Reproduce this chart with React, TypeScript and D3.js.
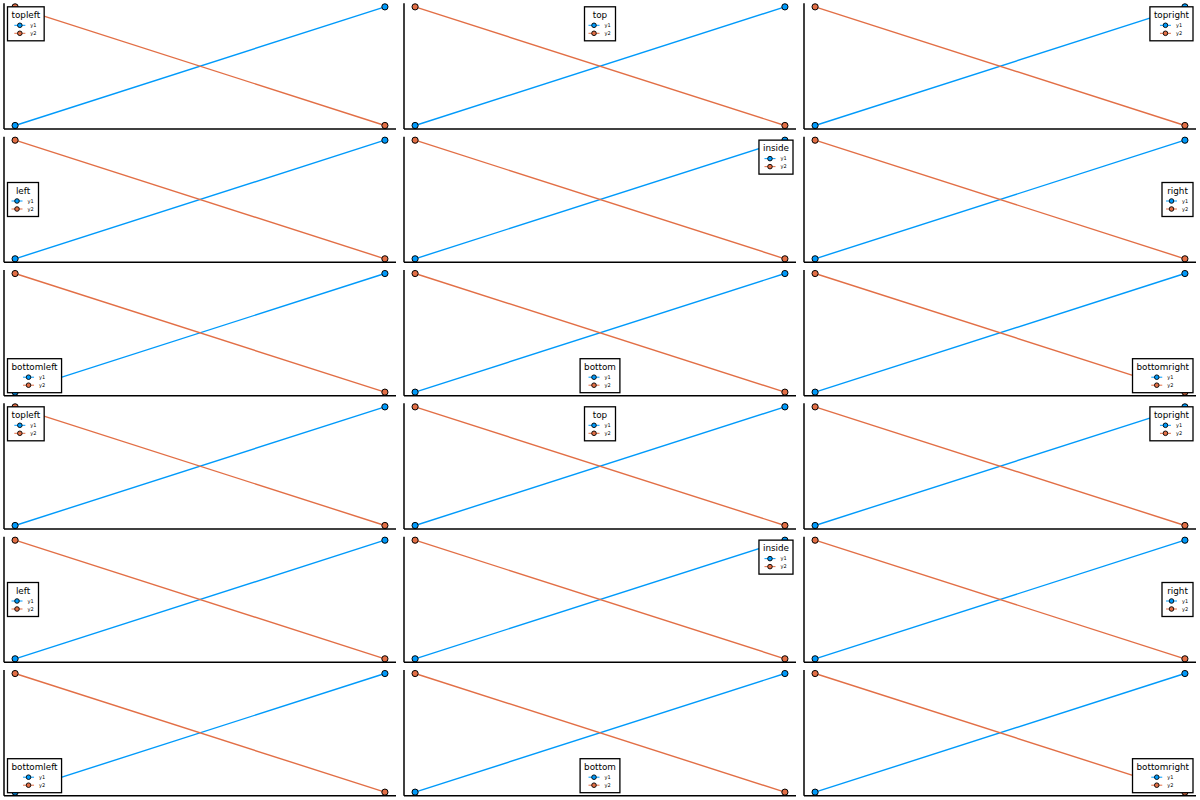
import React from "react";
import * as d3 from "d3";

const W = 1200;
const H = 800;
const ROWS = 6;
const COLS = 3;

const xValues = [1, 2];
const y1Values = [1, 2];
const y2Values = [2, 1];
const seriesNames = ["y1", "y2"];
const seriesColors = ["#009AFA", "#E26F46"];
const legendPositions = [
  "topleft", "top", "topright",
  "left", "inside", "right",
  "bottomleft", "bottom", "bottomright",
  "topleft", "top", "topright",
  "left", "inside", "right",
  "bottomleft", "bottom", "bottomright",
];

const TITLE_SIZE = 8.8;
const TITLE_FONT = `${TITLE_SIZE}px 'DejaVu Sans'`;
let measureCtx: CanvasRenderingContext2D | null = null;
function textWidth(s: string): number {
  if (!measureCtx) {
    const c = document.createElement("canvas");
    measureCtx = c.getContext("2d");
  }
  if (!measureCtx) return s.length * 5.2;
  measureCtx.font = TITLE_FONT;
  return measureCtx.measureText(s).width;
}

function widen(ext: [number, number]): [number, number] {
  const d = (ext[1] - ext[0]) * 0.03;
  return [ext[0] - d, ext[1] + d];
}

function Panel({ idx }: { idx: number }) {
  const r = Math.floor(idx / COLS);
  const c = idx % COLS;
  const pw = W / COLS;
  const ph = H / ROWS;
  const x0 = c * pw;
  const y0 = r * ph;
  const left = x0 + 4;
  const right = x0 + pw - 4;
  const top = y0 + 3.3;
  const bottom = y0 + ph - 4.3;

  const allY = [...y1Values, ...y2Values];
  const xs = d3.scaleLinear().domain(widen(d3.extent(xValues) as [number, number])).range([left, right]);
  const ys = d3.scaleLinear().domain(widen(d3.extent(allY) as [number, number])).range([bottom, top]);
  const line = d3.line<[number, number]>().x((d) => xs(d[0])).y((d) => ys(d[1]));
  const series = [y1Values, y2Values].map((vals) => xValues.map((x, i) => [x, vals[i]] as [number, number]));

  const title = legendPositions[idx];
  const bw = Math.max(31, textWidth(title) + 8);
  const bh = 34;
  let bx: number;
  let by: number;
  if (title.includes("left")) bx = left + 3.5;
  else if (title.includes("right") || title === "inside") bx = right - 3 - bw;
  else bx = (left + right) / 2 - bw / 2;
  if (title.includes("top") || title === "inside") by = top + 3.5;
  else if (title.includes("bottom")) by = bottom - 3 - bh;
  else by = (top + bottom) / 2 - bh / 2;
  const cx = bx + bw / 2;

  return (
    <g>
      {series.map((pts, si) => (
        <g key={si}>
          <path d={line(pts) || ""} fill="none" stroke={seriesColors[si]} strokeWidth={1.4} />
          {pts.map((p, pi) => (
            <circle key={pi} cx={xs(p[0])} cy={ys(p[1])} r={3.1} fill={seriesColors[si]} stroke="#000" strokeWidth={1} />
          ))}
        </g>
      ))}
      <line x1={left} x2={left} y1={top} y2={bottom} stroke="#000" strokeWidth={1.5} />
      <line x1={left} x2={right} y1={bottom} y2={bottom} stroke="#000" strokeWidth={1.5} />
      <g>
        <rect x={bx} y={by} width={bw} height={bh} fill="#fff" stroke="#000" strokeWidth={1.3} />
        <text x={cx} y={by + 11.3} textAnchor="middle" fontFamily="'DejaVu Sans'" fontSize={TITLE_SIZE} fill="#000">
          {title}
        </text>
        {seriesNames.map((nm, si) => {
          const ey = by + 18.5 + si * 8;
          return (
            <g key={nm}>
              <line x1={cx - 11.5} x2={cx - 0.5} y1={ey} y2={ey} stroke={seriesColors[si]} strokeWidth={1} />
              <circle cx={cx - 6} cy={ey} r={2.3} fill={seriesColors[si]} stroke="#000" strokeWidth={0.9} />
              <text x={cx + 4.5} y={ey + 1.8} fontFamily="'DejaVu Sans'" fontSize={5} fill="#000">
                {nm}
              </text>
            </g>
          );
        })}
      </g>
    </g>
  );
}

export default function App() {
  const panels = d3.range(ROWS * COLS);
  return (
    <svg width={W} height={H} style={{ position: "absolute", left: 0, top: 0, background: "#fff" }}>
      <rect x={0} y={0} width={W} height={H} fill="#fff" />
      {panels.map((i) => (
        <Panel key={i} idx={i} />
      ))}
    </svg>
  );
}
